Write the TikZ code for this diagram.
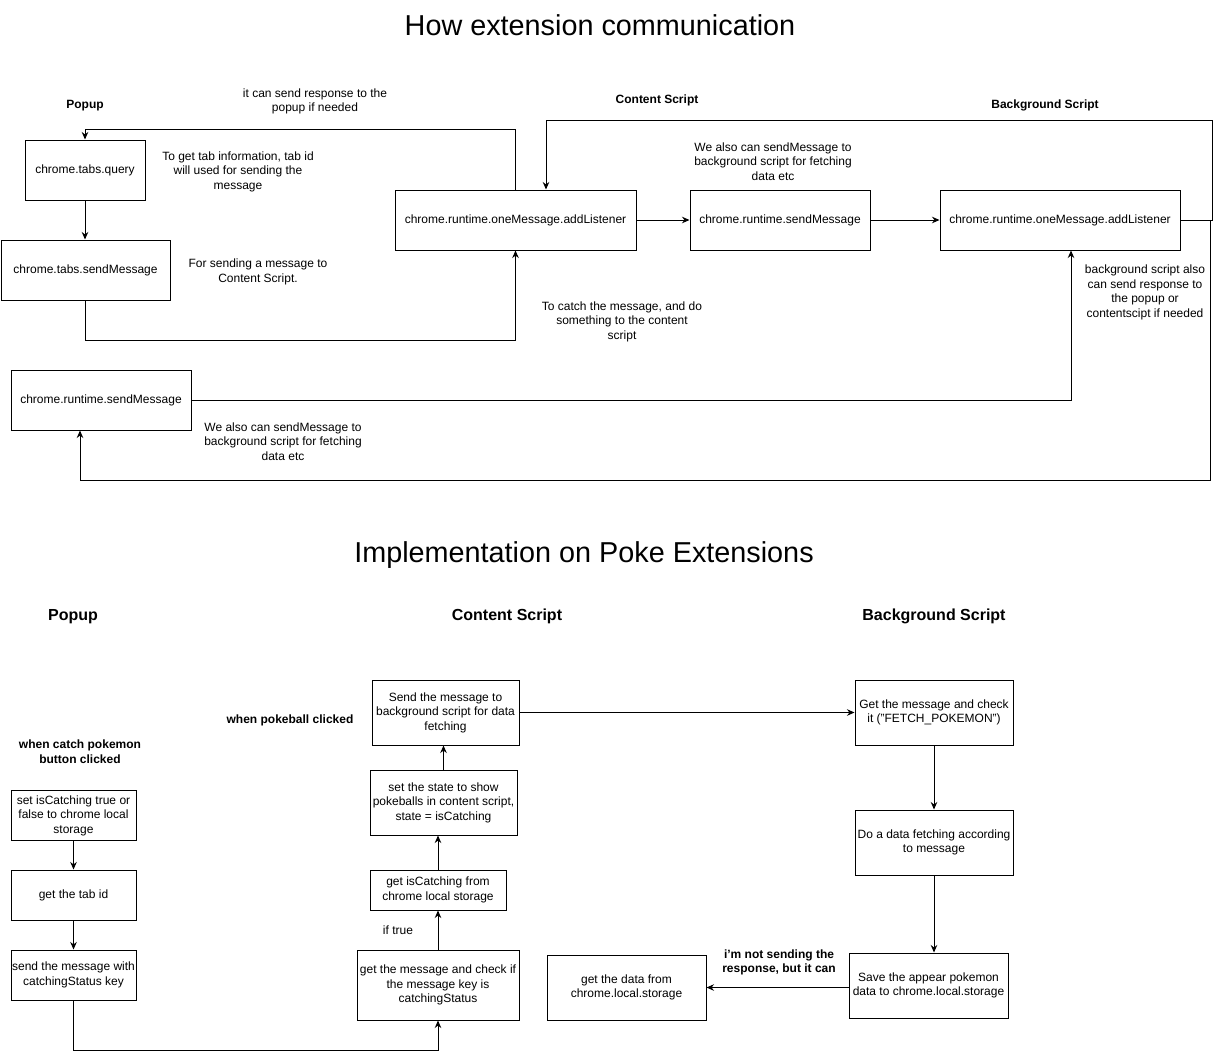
\documentclass[tikz,border=0pt]{standalone}
\usepackage{fontspec}
\setmainfont{Liberation Sans}
\usepackage{tikz}
\usetikzlibrary{arrows.meta}

\begin{document}
\begin{tikzpicture}[x=1pt,y=-1pt,
		box/.style={draw,line width=1pt,align=center,inner sep=0pt,font=\fontsize{12}{14.5}\selectfont},
		note/.style={align=center,inner sep=0pt,yshift=-1.5pt,font=\fontsize{12}{14.5}\selectfont},
		bnote/.style={align=center,inner sep=0pt,yshift=-1.5pt,font=\fontsize{12}{14.5}\selectfont\bfseries},
		head/.style={inner sep=0pt,yshift=-1.5pt,font=\fontsize{16}{19}\selectfont\bfseries},
		heading/.style={inner sep=0pt,font=\fontsize{28.8}{34}\selectfont},
		flow/.style={line width=1pt,-{Stealth[length=7.5pt,width=6.5pt]}}]
		\useasboundingbox (0,0) rectangle (1221,1060);
		% how extension communication
		\node[heading] (title1) at (600,25) {How extension communication};
		\node[bnote] (hpop1) at (85,104) {Popup};
		\node[bnote] (hcs1) at (657,99) {Content Script};
		\node[bnote] (hbg1) at (1045,104) {Background Script};
		\node[box,minimum width=120pt,minimum height=60pt] (tabsquery) at (85,170) {chrome.tabs.query};
		\node[box,minimum width=169pt,minimum height=60pt] (tabssend) at (85.5,270) {chrome.tabs.sendMessage};
		\node[box,minimum width=241pt,minimum height=60pt] (cslisten) at (515.5,220) {chrome.runtime.oneMessage.addListener};
		\node[box,minimum width=180pt,minimum height=60pt] (cssend) at (780,220) {chrome.runtime.sendMessage};
		\node[box,minimum width=240pt,minimum height=60pt] (bglisten) at (1060,220) {chrome.runtime.oneMessage.addListener};
		\node[box,minimum width=180pt,minimum height=60pt] (popsend) at (101,400) {chrome.runtime.sendMessage};
		\node[note] (n1) at (315,100) {it can send response to the\\popup if needed};
		\node[note] (n2) at (238,170) {To get tab information, tab id\\will used for sending the\\message};
		\node[note] (n3) at (258,270.5) {For sending a message to\\Content Script.};
		\node[note] (n4) at (773,160) {We also can sendMessage to\\background script for fetching\\data etc};
		\node[note] (n5) at (622,320) {To catch the message, and do\\something to the content\\script};
		\node[note] (n6) at (1145,291) {background script also\\can send response to\\the popup or\\contentscipt if needed};
		\node[note] (n7) at (283,440) {We also can sendMessage to\\background script for fetching\\data etc};
		\draw[flow] (tabsquery.south) -- (tabsquery.south |- tabssend.north);
		\draw[flow] (tabssend.south) -- ++(0,40) -| (cslisten.south);
		\draw[flow] (cslisten.north) -- ++(0,-60) -| (tabsquery.north);
		\draw[flow] (cslisten.east) -- (cssend.west);
		\draw[flow] (cssend.east) -- (bglisten.west);
		\draw[flow] (bglisten.east) -- ++(32,0) -- ++(0,-100) -| ([xshift=30.5pt]cslisten.north);
		\draw[flow] (bglisten.east) -- ++(30,0) -- ++(0,260) -| ([xshift=-21pt]popsend.south);
		\draw[flow] (popsend.east) -| ([xshift=11pt]bglisten.south);
		% implementation on poke extensions
		\node[heading] (title2) at (584,555) {Implementation on Poke Extensions};
		\node[head] (hpop2) at (73,615) {Popup};
		\node[head] (hcs2) at (507,615) {Content Script};
		\node[head] (hbg2) at (934,615) {Background Script};
		\node[bnote] (catchclick) at (80,750) {when catch pokemon\\button clicked};
		\node[bnote] (ballclick) at (290,719) {when pokeball clicked};
		\node[note] (iftrue) at (398,929) {if true};
		\node[bnote] (notsend) at (779,961) {i'm not sending the\\response, but it can};
		\node[box,minimum width=125pt,minimum height=50pt] (setcatch) at (73.5,815.5) {set isCatching true or\\false to chrome local\\storage};
		\node[box,minimum width=125pt,minimum height=50pt] (gettab) at (73.5,895) {get the tab id};
		\node[box,minimum width=125pt,minimum height=50pt] (sendmsg) at (73.5,975) {send the message with\\catchingStatus key};
		\node[box,minimum width=162pt,minimum height=70pt] (checkkey) at (438,985) {get the message and check if\\the message key is\\catchingStatus};
		\node[box,minimum width=136pt,minimum height=40pt] (getisc) at (438,890) {get isCatching from\\chrome local storage};
		\node[box,minimum width=147pt,minimum height=65pt] (setstate) at (443.5,802.5) {set the state to show\\pokeballs in content script,\\state = isCatching};
		\node[box,minimum width=147pt,minimum height=65pt] (sendbg) at (445.5,712.5) {Send the message to\\background script for data\\fetching};
		\node[box,minimum width=158pt,minimum height=65pt] (bgget) at (934,712.5) {Get the message and check\\it ("FETCH\_POKEMON")};
		\node[box,minimum width=158pt,minimum height=65pt] (dofetch) at (934,842.5) {Do a data fetching according\\to message};
		\node[box,minimum width=159pt,minimum height=65pt] (savepoke) at (928.5,985.5) {Save the appear pokemon\\data to chrome.local.storage};
		\node[box,minimum width=159pt,minimum height=65pt] (getdata) at (626.5,987.5) {get the data from\\chrome.local.storage};
		\draw[flow] (setcatch.south) -- (gettab.north);
		\draw[flow] (gettab.south) -- (sendmsg.north);
		\draw[flow] (sendmsg.south) -- ++(0,50) -| (checkkey.south);
		\draw[flow] (checkkey.north) -- (getisc.south);
		\draw[flow] (getisc.north) -- (getisc.north |- setstate.south);
		\draw[flow] (setstate.north) -- (setstate.north |- sendbg.south);
		\draw[flow] (sendbg.east) -- (bgget.west);
		\draw[flow] (bgget.south) -- (dofetch.north);
		\draw[flow] (dofetch.south) -- (dofetch.south |- savepoke.north);
		\draw[flow] ([yshift=-2pt]savepoke.west) -- ([yshift=-2pt]savepoke.west -| getdata.east);
	\end{tikzpicture}
\end{document}
